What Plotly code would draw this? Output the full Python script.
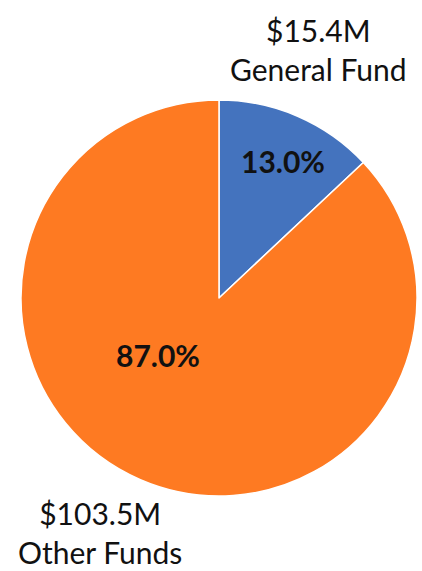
import plotly.graph_objects as go

categories = ["General Fund", "Other Funds"]
amounts_m = [15.4, 103.5]
percents = [13.0, 87.0]
colors = ["#4473BE", "#FE7A22"]

fig = go.Figure(go.Pie(
    labels=categories,
    values=percents,
    sort=False,
    direction="clockwise",
    rotation=0,
    marker=dict(colors=colors, line=dict(color="white", width=1.5)),
    textinfo="none",
    hoverinfo="label+percent",
    showlegend=False,
    domain=dict(x=[21/422, 417/422], y=[75/571, 471/571]),
))

W, H = 422, 571
def px(x, y):
    return x / W, 1 - y / H

# percentage labels inside slices
pct_pos = [(283, 161), (158, 355)]
for p, (x, y) in zip(percents, pct_pos):
    ax, ay = px(x, y)
    fig.add_annotation(x=ax, y=ay, xref="paper", yref="paper", showarrow=False,
                       xanchor="center", yanchor="middle",
                       text=f"<b>{p:.1f}%</b>",
                       font=dict(family="Lato", size=30, color="#111111"))

# outside labels
out_pos = [(318, 50, "middle"), (100, 571, "bottom")]
for c, a, (x, y, ya) in zip(categories, amounts_m, out_pos):
    ax, ay = px(x, y)
    fig.add_annotation(x=ax, y=ay, xref="paper", yref="paper", showarrow=False,
                       xanchor="center", yanchor=ya, borderpad=0,
                       text=f"${a:.1f}M<br>{c}",
                       font=dict(family="Lato", size=30, color="#111111"),
                       align="center")

fig.update_layout(width=W, height=H, margin=dict(l=0, r=0, t=0, b=0),
                  paper_bgcolor="white", plot_bgcolor="white")
fig.write_html("out.html")
